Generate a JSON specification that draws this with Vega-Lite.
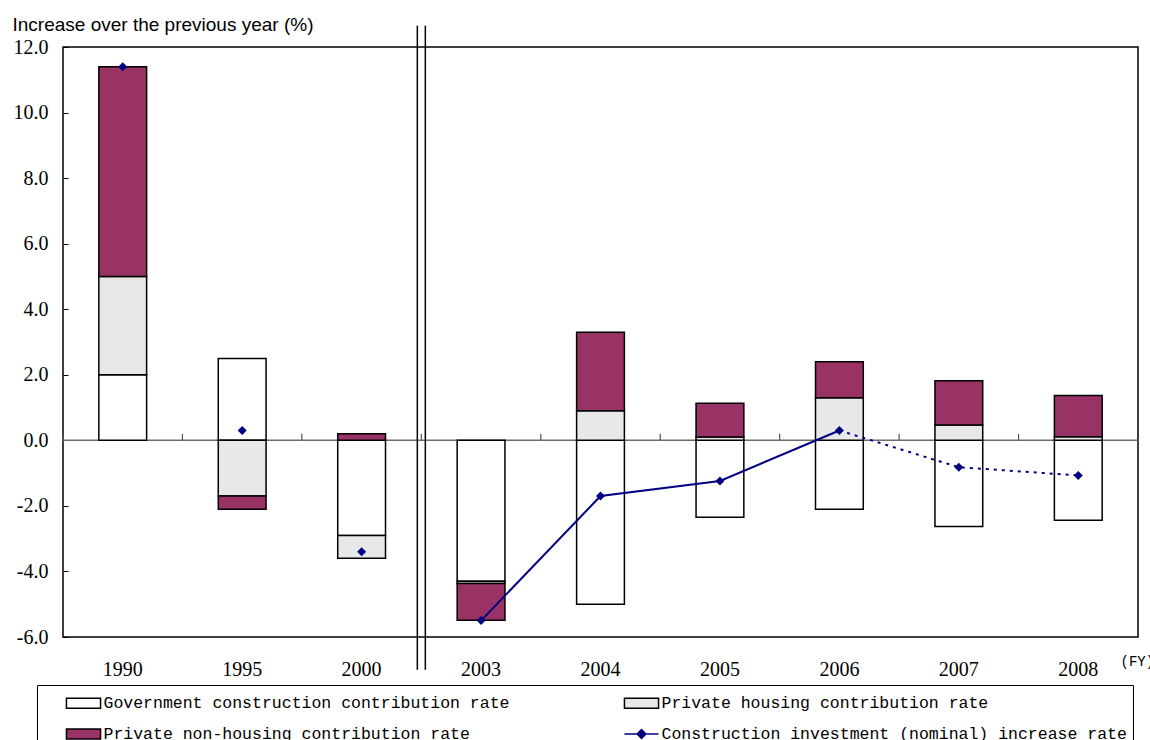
{
  "$schema": "https://vega.github.io/schema/vega-lite/v6.json",
  "width": 1075,
  "height": 590,
  "autosize": {"type": "none"},
  "padding": {"left": 63, "top": 47, "right": 12, "bottom": 103},
  "background": "white",
  "config": {
    "view": {"stroke": "black", "strokeWidth": 1.5},
    "axis": {"grid": false, "domain": false, "labelColor": "black", "titleColor": "black"}
  },
  "datasets": {
    "contrib": [
      {"year": "1990", "series": "Government construction contribution rate", "k": 0, "value": 2.0},
      {"year": "1990", "series": "Private housing contribution rate", "k": 1, "value": 3.0},
      {"year": "1990", "series": "Private non-housing contribution rate", "k": 2, "value": 6.4},
      {"year": "1995", "series": "Government construction contribution rate", "k": 0, "value": 2.5},
      {"year": "1995", "series": "Private housing contribution rate", "k": 1, "value": -1.7},
      {"year": "1995", "series": "Private non-housing contribution rate", "k": 2, "value": -0.4},
      {"year": "2000", "series": "Government construction contribution rate", "k": 0, "value": -2.9},
      {"year": "2000", "series": "Private housing contribution rate", "k": 1, "value": -0.7},
      {"year": "2000", "series": "Private non-housing contribution rate", "k": 2, "value": 0.2},
      {"year": "2003", "series": "Government construction contribution rate", "k": 0, "value": -4.3},
      {"year": "2003", "series": "Private housing contribution rate", "k": 1, "value": -0.07},
      {"year": "2003", "series": "Private non-housing contribution rate", "k": 2, "value": -1.12},
      {"year": "2004", "series": "Government construction contribution rate", "k": 0, "value": -5.0},
      {"year": "2004", "series": "Private housing contribution rate", "k": 1, "value": 0.9},
      {"year": "2004", "series": "Private non-housing contribution rate", "k": 2, "value": 2.4},
      {"year": "2005", "series": "Government construction contribution rate", "k": 0, "value": -2.35},
      {"year": "2005", "series": "Private housing contribution rate", "k": 1, "value": 0.1},
      {"year": "2005", "series": "Private non-housing contribution rate", "k": 2, "value": 1.03},
      {"year": "2006", "series": "Government construction contribution rate", "k": 0, "value": -2.1},
      {"year": "2006", "series": "Private housing contribution rate", "k": 1, "value": 1.3},
      {"year": "2006", "series": "Private non-housing contribution rate", "k": 2, "value": 1.1},
      {"year": "2007", "series": "Government construction contribution rate", "k": 0, "value": -2.63},
      {"year": "2007", "series": "Private housing contribution rate", "k": 1, "value": 0.47},
      {"year": "2007", "series": "Private non-housing contribution rate", "k": 2, "value": 1.35},
      {"year": "2008", "series": "Government construction contribution rate", "k": 0, "value": -2.44},
      {"year": "2008", "series": "Private housing contribution rate", "k": 1, "value": 0.11},
      {"year": "2008", "series": "Private non-housing contribution rate", "k": 2, "value": 1.26}
    ],
    "totals": [
      {"year": "1990", "total": 11.4},
      {"year": "1995", "total": 0.3},
      {"year": "2000", "total": -3.4},
      {"year": "2003", "total": -5.5},
      {"year": "2004", "total": -1.7},
      {"year": "2005", "total": -1.24},
      {"year": "2006", "total": 0.3},
      {"year": "2007", "total": -0.82},
      {"year": "2008", "total": -1.07}
    ],
    "breaks": [{"year": "2003"}],
    "baseline": [{"level": 0}]
  },
  "layer": [
    {
      "data": {"name": "baseline"},
      "mark": {"type": "rule", "color": "#6e6e6e", "strokeWidth": 1.5},
      "encoding": {
        "y": {"field": "level", "type": "quantitative", "scale": {"domain": [-6, 12], "nice": false, "zero": false}}
      }
    },
    {
      "data": {"name": "contrib"},
      "mark": {"type": "bar", "stroke": "black", "strokeWidth": 1.5},
      "encoding": {
        "x": {
          "field": "year", "type": "nominal",
          "scale": {"domain": ["1990", "1995", "2000", "2003", "2004", "2005", "2006", "2007", "2008"], "paddingInner": 0.6, "paddingOuter": 0.3},
          "axis": {
            "title": "(FY)", "titleFont": "Liberation Mono", "titleFontSize": 14, "titleFontWeight": "normal",
            "titleAngle": 0, "titleAlign": "left", "titleBaseline": "middle", "titleX": 1057, "titleY": 24,
            "labelFont": "Liberation Serif", "labelFontSize": 20, "labelAngle": 0, "labelPadding": 22,
            "ticks": false, "domain": false
          }
        },
        "y": {
          "field": "value", "type": "quantitative", "stack": "zero",
          "scale": {"domain": [-6, 12], "nice": false, "zero": false},
          "axis": {
            "values": [-6, -4, -2, 0, 2, 4, 6, 8, 10, 12],
            "labelExpr": "replace(format(datum.value, '.1f'), '\u2212', '-')",
            "labelFont": "Liberation Serif", "labelFontSize": 20, "labelPadding": 20,
            "ticks": true, "tickSize": -5, "tickColor": "black", "tickWidth": 1,
            "title": "Increase over the previous year (%)", "titleFont": "Liberation Sans", "titleFontSize": 19,
            "titleFontWeight": "normal", "titleAngle": 0, "titleAlign": "left", "titleBaseline": "middle",
            "titleX": -51, "titleY": -23
          }
        },
        "fill": {
          "field": "series", "type": "nominal",
          "scale": {
            "domain": ["Government construction contribution rate", "Private housing contribution rate", "Private non-housing contribution rate", "Construction investment (nominal) increase rate"],
            "range": ["#ffffff", "#e8e8e8", "#993366", "#000080"]
          },
          "legend": {
            "title": null, "orient": "none", "legendX": -26, "legendY": 638, "columns": 2, "direction": "horizontal",
            "strokeColor": "black", "padding": 6,
            "symbolSize": 484, "symbolOffset": 28.5, "labelOffset": 8,
            "columnPadding": 91, "rowPadding": 10,
            "symbolType": "M-1.55,-0.45H1.55V0.45H-1.55Z",
            "symbolStrokeColor": "black", "symbolStrokeWidth": 1.5,
            "labelFont": "Liberation Mono", "labelFontSize": 16.5, "labelColor": "black", "labelLimit": 0,
            "encoding": {
              "symbols": {
                "shape": {"value": {"expr": "datum.value === 'Construction investment (nominal) increase rate' ? 'M-1.55,0H1.55M0,-0.4L0.4,0L0,0.4L-0.4,0Z' : 'M-1.55,-0.45H1.55V0.45H-1.55Z'"}},
                "stroke": {"value": {"expr": "datum.value === 'Construction investment (nominal) increase rate' ? '#000080' : 'black'"}}
              }
            }
          }
        },
        "order": {"field": "k", "type": "quantitative"}
      }
    },
    {
      "data": {"name": "totals"},
      "mark": {"type": "rule", "color": "#555555", "strokeWidth": 1.2},
      "encoding": {
        "x": {"field": "year", "type": "nominal", "bandPosition": -0.75, "scale": {"domain": ["1990", "1995", "2000", "2003", "2004", "2005", "2006", "2007", "2008"], "paddingInner": 0.6, "paddingOuter": 0.3}},
        "y": {"datum": 0, "type": "quantitative", "scale": {"domain": [-6, 12], "nice": false, "zero": false}},
        "y2": {"datum": 0.2}
      }
    },
    {
      "data": {"name": "totals"},
      "transform": [{"filter": {"field": "year", "oneOf": ["2003", "2004", "2005", "2006"]}}],
      "mark": {"type": "line", "color": "#000080", "strokeWidth": 2},
      "encoding": {
        "x": {"field": "year", "type": "nominal", "scale": {"domain": ["1990", "1995", "2000", "2003", "2004", "2005", "2006", "2007", "2008"], "paddingInner": 0.6, "paddingOuter": 0.3}},
        "y": {"field": "total", "type": "quantitative", "scale": {"domain": [-6, 12], "nice": false, "zero": false}}
      }
    },
    {
      "data": {"name": "totals"},
      "transform": [{"filter": {"field": "year", "oneOf": ["2006", "2007", "2008"]}}],
      "mark": {"type": "line", "color": "#000080", "strokeWidth": 2, "strokeDash": [3, 5]},
      "encoding": {
        "x": {"field": "year", "type": "nominal", "scale": {"domain": ["1990", "1995", "2000", "2003", "2004", "2005", "2006", "2007", "2008"], "paddingInner": 0.6, "paddingOuter": 0.3}},
        "y": {"field": "total", "type": "quantitative", "scale": {"domain": [-6, 12], "nice": false, "zero": false}}
      }
    },
    {
      "data": {"name": "totals"},
      "mark": {"type": "point", "shape": "diamond", "filled": true, "color": "#000080", "size": 81, "opacity": 1},
      "encoding": {
        "x": {"field": "year", "type": "nominal", "scale": {"domain": ["1990", "1995", "2000", "2003", "2004", "2005", "2006", "2007", "2008"], "paddingInner": 0.6, "paddingOuter": 0.3}},
        "y": {"field": "total", "type": "quantitative", "scale": {"domain": [-6, 12], "nice": false, "zero": false}}
      }
    },
    {
      "data": {"name": "breaks"},
      "mark": {"type": "rule", "color": "black", "strokeWidth": 1.5, "xOffset": -4},
      "encoding": {
        "x": {"field": "year", "type": "nominal", "bandPosition": -0.75, "scale": {"domain": ["1990", "1995", "2000", "2003", "2004", "2005", "2006", "2007", "2008"], "paddingInner": 0.6, "paddingOuter": 0.3}},
        "y": {"datum": 12.65, "type": "quantitative", "scale": {"domain": [-6, 12], "nice": false, "zero": false}},
        "y2": {"datum": -7.0}
      }
    },
    {
      "data": {"name": "breaks"},
      "mark": {"type": "rule", "color": "black", "strokeWidth": 1.5, "xOffset": 4},
      "encoding": {
        "x": {"field": "year", "type": "nominal", "bandPosition": -0.75, "scale": {"domain": ["1990", "1995", "2000", "2003", "2004", "2005", "2006", "2007", "2008"], "paddingInner": 0.6, "paddingOuter": 0.3}},
        "y": {"datum": 12.65, "type": "quantitative", "scale": {"domain": [-6, 12], "nice": false, "zero": false}},
        "y2": {"datum": -7.0}
      }
    }
  ]
}
